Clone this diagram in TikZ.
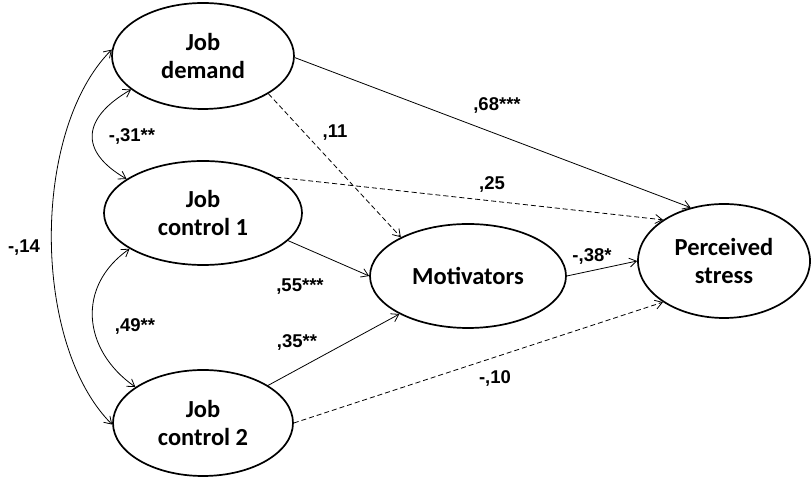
\documentclass[tikz,border=0pt]{standalone}
\usepackage{fontspec}
\setmainfont{Carlito}
\newfontfamily\coeffont{Liberation Sans}
\usetikzlibrary{arrows.meta,shapes.geometric}
\tikzset{
  lv/.style   ={ellipse, draw=black, line width=1.7pt, align=center, inner sep=0pt,
                font=\fontsize{24.5}{28}\selectfont\bfseries},
  coef/.style ={font=\coeffont\fontsize{18.5}{22}\selectfont\bfseries, inner sep=0pt, anchor=base},
  pth/.style  ={-{Straight Barb[length=7pt,width=9pt]}, line width=0.8pt},
  nspth/.style={pth, dash pattern=on 5pt off 3pt},
  cov/.style  ={{Straight Barb[length=7pt,width=9pt]}-{Straight Barb[length=7pt,width=9pt]}, line width=0.8pt},
}
\begin{document}
\begin{tikzpicture}[x=1pt,y=1pt]
\useasboundingbox (0,0) rectangle (812,478);
% latent variables
\node[lv, minimum width=182, minimum height=106] (jd)  at (203,422) {Job\\demand};
\node[lv, minimum width=198, minimum height=104] (jc1) at (203,265) {Job\\control 1};
\node[lv, minimum width=180, minimum height=106] (jc2) at (203,55)  {Job\\control 2};
\node[lv, minimum width=196, minimum height=104] (mot) at (468,202) {Motivators};
\node[lv, minimum width=172, minimum height=114] (ps)  at (724,217) {Perceived\\stress};
% paths
\draw[pth]   (jd.-1)  -- (ps.122);
\draw[nspth] (jd.-30) -- (mot.150);
\draw[nspth] (jc1.26) -- (ps.146);
\draw[pth]   (jc1.-18) -- (mot.west);
\draw[pth]   (jc2.30) -- (mot.209);
\draw[nspth] (jc2.east) -- (ps.214);
\draw[pth]   (mot.east) -- (ps.west);
% covariances
\draw[cov] (jd.205) to[out=210, in=150, looseness=1.6] (jc1.156);
\draw[cov] (jc1.206) to[out=215, in=145, looseness=1.2] (jc2.152);
\draw[cov] (jd.176) to[out=225, in=135, looseness=0.78] (jc2.181);
% coefficients
\node[coef] (c68) at (497,367) {,68***};
\node[coef] (c11) at (335,340) {,11};
\node[coef] (c31) at (132,336) {-,31**};
\node[coef] (c25) at (492,288) {,25};
\node[coef] (c14) at (24,225)  {-,14};
\node[coef] (c55) at (300,186) {,55***};
\node[coef] (c49) at (135,146) {,49**};
\node[coef] (c35) at (297,130) {,35**};
\node[coef] (c38) at (592,216) {-,38*};
\node[coef] (c10) at (495,94)  {-,10};
\end{tikzpicture}
\end{document}
